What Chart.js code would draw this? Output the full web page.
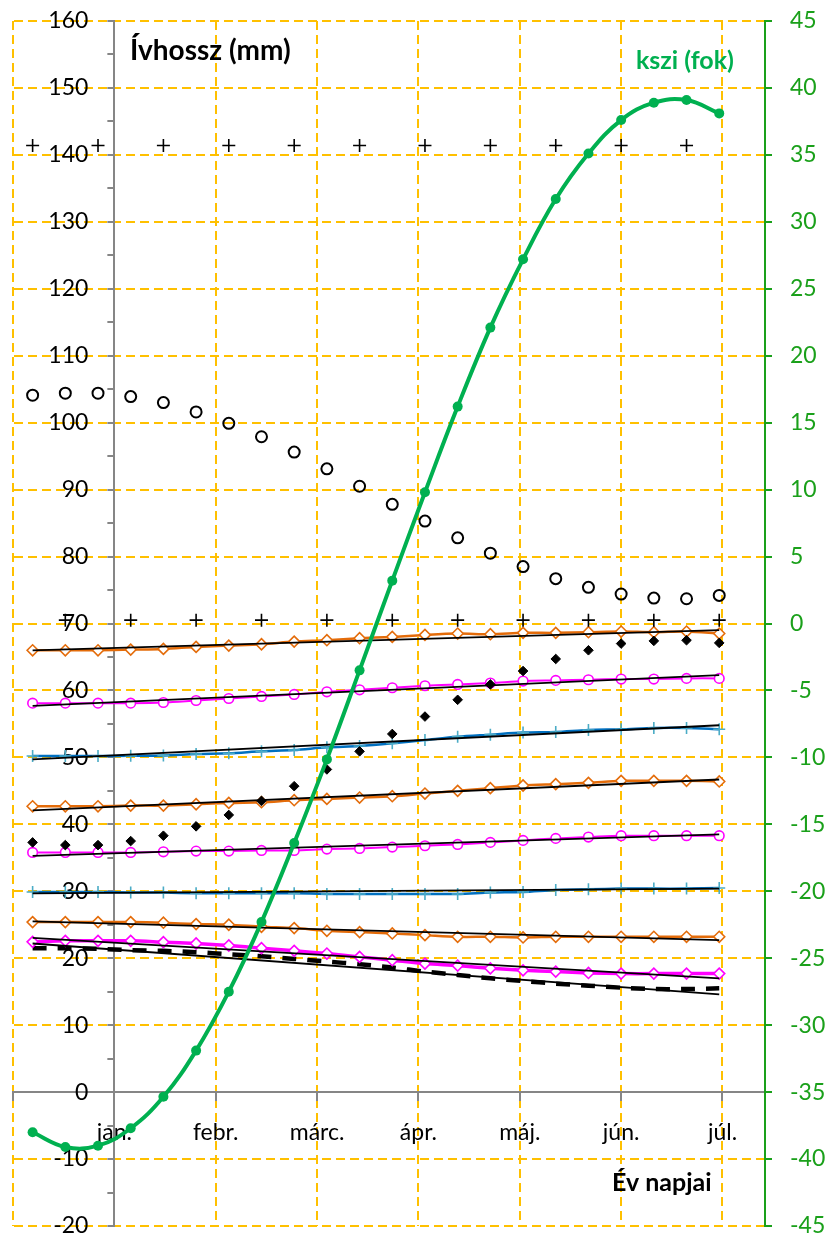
<!DOCTYPE html>
<html>
<head>
<meta charset="utf-8">
<script src="https://cdn.jsdelivr.net/npm/chart.js@4.4.1/dist/chart.umd.min.js"></script>
<style>
  html, body { margin: 0; padding: 0; background: #ffffff; }
  #wrap { width: 826px; height: 1235px; }
</style>
</head>
<body>
<div id="wrap"><canvas id="chart" width="826" height="1235"></canvas></div>
<script>
// Day of the year for every measurement (negative = December of the previous year)
const days = [-25, -15, -5, 5, 15, 25, 35, 45, 55, 65, 75, 85, 95, 105, 115, 125, 135, 145, 155, 165, 175, 185];
const daysEven = [-25, -5, 15, 35, 55, 75, 95, 115, 135, 155, 175];
const daysOdd = [-15, 5, 25, 45, 65, 85, 105, 125, 145, 165, 185];
const trendDays = [-25, 185];

// Month tick positions and labels on the day axis
const gridDays = [-31, 0, 31, 62, 93, 124, 155, 186];
const monthDays = [0, 31, 62, 93, 124, 155, 186];
const monthLabels = ['jan.', 'febr.', 'márc.', 'ápr.', 'máj.', 'jún.', 'júl.'];

// Axis titles
const leftTitle = 'Ívhossz (mm)';
const rightTitle = 'kszi (fok)';
const bottomTitle = 'Év napjai';

// kszi angle (degrees, right axis)
const kszi = [-38.0, -39.1, -39.0, -37.7, -35.35, -31.9, -27.5, -22.3, -16.4, -10.15, -3.5, 3.2, 9.8, 16.2, 22.1, 27.2, 31.7, 35.1, 37.6, 38.9, 39.1, 38.1];

// Arc lengths (mm, left axis)
const crossTop = [141.4, 141.4, 141.4, 141.4, 141.4, 141.4, 141.4, 141.4, 141.4, 141.4, 141.4];
const crossMid = [70.5, 70.5, 70.5, 70.5, 70.5, 70.5, 70.5, 70.5, 70.5, 70.5, 70.5];
const openCircles = [104.1, 104.4, 104.4, 103.9, 103.0, 101.6, 99.9, 97.9, 95.6, 93.1, 90.5, 87.8, 85.3, 82.8, 80.5, 78.5, 76.7, 75.4, 74.4, 73.8, 73.7, 74.2];
const filledDiamonds = [37.3, 36.9, 36.9, 37.5, 38.3, 39.7, 41.4, 43.5, 45.7, 48.2, 50.9, 53.5, 56.1, 58.6, 60.9, 62.9, 64.7, 66.0, 67.0, 67.4, 67.5, 67.1];

const orangeA = [66.0, 66.0, 66.0, 66.1, 66.2, 66.5, 66.7, 66.9, 67.3, 67.5, 67.8, 68.0, 68.3, 68.5, 68.4, 68.6, 68.6, 68.7, 68.8, 68.7, 68.8, 68.5];
const magentaA = [58.1, 58.1, 58.1, 58.1, 58.2, 58.5, 58.8, 59.1, 59.4, 59.8, 60.1, 60.4, 60.7, 60.9, 61.1, 61.4, 61.5, 61.6, 61.7, 61.7, 61.8, 61.8];
const blueA = [50.2, 50.2, 50.2, 50.25, 50.3, 50.5, 50.6, 50.9, 51.1, 51.5, 51.7, 52.1, 52.6, 53.1, 53.4, 53.7, 53.8, 54.1, 54.2, 54.4, 54.4, 54.2];
const orangeB = [42.7, 42.7, 42.7, 42.8, 42.8, 43.0, 43.2, 43.3, 43.6, 43.8, 44.0, 44.2, 44.6, 45.0, 45.4, 45.8, 46.0, 46.2, 46.5, 46.5, 46.5, 46.4];
const magentaB = [35.8, 35.8, 35.8, 35.8, 35.9, 36.0, 36.0, 36.1, 36.1, 36.3, 36.4, 36.6, 36.8, 37.0, 37.3, 37.6, 37.9, 38.1, 38.3, 38.3, 38.3, 38.3];
const blueB = [29.9, 29.9, 29.9, 29.8, 29.8, 29.7, 29.7, 29.7, 29.7, 29.6, 29.6, 29.6, 29.6, 29.6, 29.8, 29.9, 30.2, 30.3, 30.4, 30.4, 30.4, 30.5];
const orangeC = [25.4, 25.4, 25.4, 25.4, 25.3, 25.1, 25.0, 24.7, 24.5, 24.1, 23.9, 23.7, 23.45, 23.2, 23.2, 23.1, 23.2, 23.2, 23.2, 23.2, 23.2, 23.2];
const magentaDiamonds = [22.45, 22.6, 22.6, 22.6, 22.4, 22.2, 21.9, 21.5, 21.1, 20.7, 20.2, 19.7, 19.2, 18.9, 18.5, 18.2, 18.0, 17.8, 17.7, 17.7, 17.7, 17.7];
const dashedSeries = [21.5, 21.5, 21.4, 21.2, 21.1, 20.9, 20.6, 20.3, 19.9, 19.5, 19.1, 18.6, 18.0, 17.5, 17.0, 16.6, 16.2, 15.9, 15.6, 15.4, 15.4, 15.5];

// Linear trend lines: value at the first and at the last day
const trendOrangeA = [66.0, 69.0];
const trendMagentaA = [57.7, 62.3];
const trendBlueA = [49.7, 54.8];
const trendOrangeB = [42.1, 46.7];
const trendMagentaB = [35.3, 38.5];
const trendBlueB = [29.7, 30.4];
const trendOrangeC = [25.5, 22.7];
const trendMagentaD = [23.05, 17.0];
const trendDashed = [22.2, 14.6];

const GRID = '#FFC000';
const AXIS_GRAY = '#868686';
const GREEN = '#00B050';
const AXIS_GREEN = '#1AA01A';
const ORANGE = '#E46C0A';
const MAGENTA = '#FF00FF';
const BLUE_LINE = '#0070C0';
const BLUE_MARK = '#4BACC6';
const NONE = 'rgba(0,0,0,0)';
const FONT = 'Lato, "Open Sans", sans-serif';

Chart.defaults.font.family = FONT;
Chart.defaults.font.size = 23;
Chart.defaults.color = '#000000';

const pts = (xs, ys) => xs.map((x, i) => ({ x: x, y: ys[i] }));

const trend = (vals) => ({
  data: pts(trendDays, vals),
  borderColor: '#000000',
  borderWidth: 1.8,
  pointRadius: 0,
  tension: 0,
  yAxisID: 'y'
});

const series = (vals, color, style, radius, lineWidth, markColor) => ({
  data: pts(days, vals),
  borderColor: color,
  borderWidth: lineWidth,
  pointStyle: style,
  pointRadius: radius,
  pointBorderColor: markColor || color,
  pointBackgroundColor: '#ffffff',
  pointBorderWidth: 1.6,
  tension: 0.3,
  yAxisID: 'y'
});

const scatter = (xs, vals, style, radius, fill, width) => ({
  data: pts(xs, vals),
  showLine: false,
  borderColor: '#000000',
  pointStyle: style,
  pointRadius: radius,
  pointBorderColor: '#000000',
  pointBackgroundColor: fill,
  pointBorderWidth: width,
  yAxisID: 'y'
});

// The value axis crosses the day axis at day 0: move it there once the layout is known
const leftAxisAtZero = {
  id: 'leftAxisAtZero',
  afterLayout(chart) {
    const ys = chart.scales.y;
    const x0 = chart.scales.x.getPixelForValue(0);
    ys.right = x0;
    ys.left = x0 - 100;
    ys.width = 100;
  }
};

const axisTitles = {
  id: 'axisTitles',
  afterDraw(chart) {
    const ctx = chart.ctx;
    const a = chart.chartArea;
    ctx.save();
    ctx.textBaseline = 'middle';
    ctx.textAlign = 'left';
    ctx.fillStyle = '#000000';
    ctx.font = 'bold 28px ' + FONT;
    ctx.fillText(leftTitle, a.left + 117, a.top + 30);
    ctx.font = 'bold 25px ' + FONT;
    ctx.fillText(bottomTitle, a.left + 599, a.bottom - 43);
    ctx.fillStyle = GREEN;
    ctx.fillText(rightTitle, a.left + 623, a.top + 40);
    ctx.restore();
  }
};

new Chart(document.getElementById('chart'), {
  type: 'line',
  data: {
    datasets: [
      {
        data: pts(days, kszi),
        yAxisID: 'y2',
        borderColor: GREEN,
        backgroundColor: GREEN,
        borderWidth: 4,
        pointRadius: 5,
        pointBackgroundColor: GREEN,
        pointBorderWidth: 0,
        tension: 0.4
      },
      trend(trendOrangeA),
      trend(trendMagentaA),
      trend(trendBlueA),
      trend(trendOrangeB),
      trend(trendMagentaB),
      trend(trendBlueB),
      trend(trendOrangeC),
      trend(trendMagentaD),
      trend(trendDashed),
      scatter(daysEven, crossTop, 'cross', 6.5, NONE, 1.6),
      scatter(daysOdd, crossMid, 'cross', 6.5, NONE, 1.6),
      scatter(days, openCircles, 'circle', 5.5, NONE, 2),
      scatter(days, filledDiamonds, 'rectRot', 4.8, '#000000', 1),
      series(orangeA, ORANGE, 'rectRot', 5.5, 2.5),
      series(magentaA, MAGENTA, 'circle', 4.8, 2),
      series(blueA, BLUE_LINE, 'cross', 6, 2.5, BLUE_MARK),
      series(orangeB, ORANGE, 'rectRot', 5.5, 2.5),
      series(magentaB, MAGENTA, 'circle', 4.8, 2),
      series(blueB, BLUE_LINE, 'cross', 6, 2.5, BLUE_MARK),
      series(orangeC, ORANGE, 'rectRot', 5.5, 2.5),
      series(magentaDiamonds, MAGENTA, 'rectRot', 5.5, 3.5),
      {
        data: pts(days, dashedSeries),
        yAxisID: 'y',
        borderColor: '#000000',
        borderWidth: 4.5,
        borderDash: [14, 11],
        pointRadius: 0,
        tension: 0.3
      }
    ]
  },
  options: {
    responsive: false,
    animation: false,
    devicePixelRatio: 1,
    layout: { padding: { left: 13, top: 21, right: 0, bottom: 9 } },
    plugins: {
      legend: { display: false },
      tooltip: { enabled: false },
      title: { display: false }
    },
    scales: {
      x: {
        type: 'linear',
        position: { y: 0 },
        min: -31,
        max: 199,
        afterBuildTicks: (s) => { s.ticks = gridDays.map((v) => ({ value: v })); },
        afterFit: (s) => { s.paddingLeft = 0; s.paddingRight = 0; },
        grid: {
          color: (c) => (c.tick && c.tick.value === 0 ? NONE : GRID),
          lineWidth: 2,
          tickLength: 8,
          tickColor: AXIS_GRAY,
          tickWidth: 2,
          tickBorderDash: []
        },
        border: { color: AXIS_GRAY, width: 2, dash: [9, 5] },
        ticks: {
          autoSkip: false,
          maxRotation: 0,
          padding: 19,
          color: '#000000',
          callback: (v) => {
            const i = monthDays.indexOf(v);
            return i >= 0 ? monthLabels[i] : '';
          }
        }
      },
      y: {
        type: 'linear',
        position: 'left',
        min: -20,
        max: 160,
        afterFit: (s) => { s.width = 0; s.paddingTop = 0; s.paddingBottom = 0; },
        grid: {
          color: (c) => (c.tick && (c.tick.value % 10 !== 0 || c.tick.value === 0) ? NONE : GRID),
          lineWidth: 2,
          tickLength: 7,
          tickColor: AXIS_GRAY,
          tickWidth: 2,
          tickBorderDash: []
        },
        border: { color: AXIS_GRAY, width: 2, dash: [9, 5] },
        ticks: {
          stepSize: 5,
          autoSkip: false,
          padding: 19,
          color: '#000000',
          callback: (v) => (v % 10 === 0 ? String(v) : '')
        }
      },
      y2: {
        type: 'linear',
        position: 'right',
        min: -45,
        max: 45,
        afterFit: (s) => { s.width = 61; s.paddingTop = 0; s.paddingBottom = 0; },
        grid: {
          drawOnChartArea: false,
          lineWidth: 2,
          tickLength: 7,
          tickColor: AXIS_GREEN,
          tickWidth: 2,
          tickBorderDash: []
        },
        border: { color: AXIS_GREEN, width: 2 },
        ticks: {
          stepSize: 5,
          autoSkip: false,
          padding: 18,
          color: AXIS_GREEN
        }
      }
    }
  },
  plugins: [leftAxisAtZero, axisTitles]
});
</script>
</body>
</html>
